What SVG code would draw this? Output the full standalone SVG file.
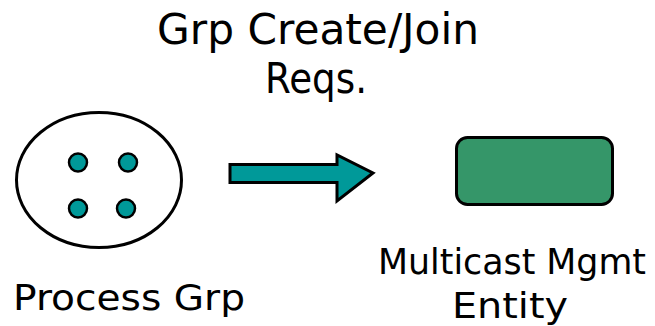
<svg xmlns="http://www.w3.org/2000/svg" width="655" height="326" viewBox="0 0 655 326">
  <style>
    .lbl { font-family: "Comic Sans MS", "DejaVu Sans", sans-serif; fill: #000; }
    .outline { stroke: #000; stroke-width: 3; }
    .member { fill: #009999; stroke: #000; stroke-width: 2.5; }
  </style>
  <rect width="655" height="326" fill="#fff"/>

  <!-- heading -->
  <g id="title">
    <text class="lbl" x="157" y="44" font-size="42" textLength="322" lengthAdjust="spacingAndGlyphs">Grp Create/Join</text>
    <text class="lbl" x="265" y="93" font-size="42" textLength="102" lengthAdjust="spacingAndGlyphs">Reqs.</text>
  </g>

  <!-- process group with its four members -->
  <g id="process-grp">
    <ellipse class="outline" cx="99" cy="180" rx="82.5" ry="67.5" fill="#fff"/>
    <circle class="member" cx="78" cy="162.5" r="9"/>
    <circle class="member" cx="128" cy="162.5" r="9"/>
    <circle class="member" cx="78" cy="208.5" r="9"/>
    <circle class="member" cx="126" cy="208.5" r="9"/>
    <text class="lbl" x="13" y="310" font-size="36" textLength="232" lengthAdjust="spacingAndGlyphs">Process Grp</text>
  </g>

  <!-- block arrow for the requests -->
  <g id="connectors">
    <path class="outline" fill="#009999" stroke-linejoin="miter" d="M230 164.5 H337 V155 L373 173 L337 201 V182.5 H230 Z"/>
  </g>

  <!-- management entity -->
  <g id="mgmt-entity">
    <rect class="outline" x="456.5" y="137.5" width="156" height="67" rx="11" fill="#359669"/>
    <text class="lbl" x="378" y="274" font-size="36" textLength="268" lengthAdjust="spacingAndGlyphs">Multicast Mgmt</text>
    <text class="lbl" x="452" y="318" font-size="36" textLength="116" lengthAdjust="spacingAndGlyphs">Entity</text>
  </g>
</svg>
